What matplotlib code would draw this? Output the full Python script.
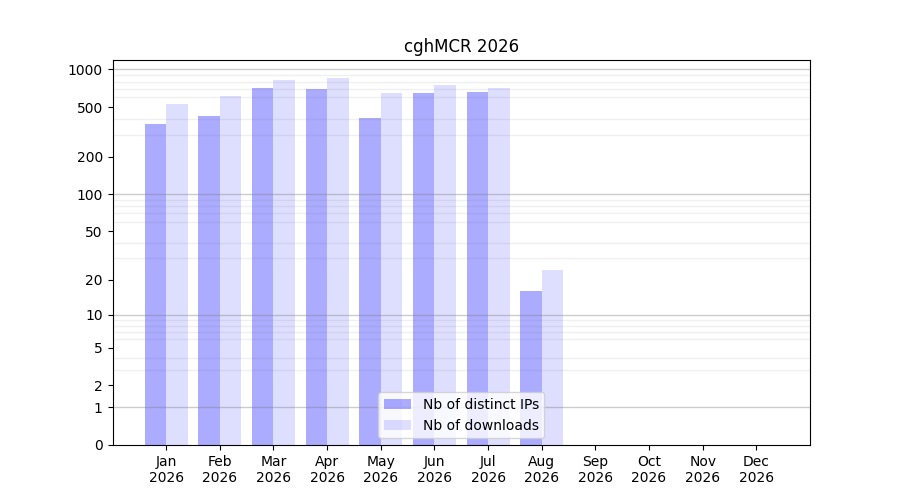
import numpy as np
import matplotlib
matplotlib.use('Agg')
import matplotlib.pyplot as plt

months = ['Jan', 'Feb', 'Mar', 'Apr', 'May', 'Jun', 'Jul', 'Aug', 'Sep', 'Oct', 'Nov', 'Dec']
year = '2026'
distinct_ips = [364, 421, 706, 693, 406, 644, 656, 16]
downloads = [526, 609, 818, 849, 644, 746, 706, 24]

ytick_values = [0, 1, 2, 5, 10, 20, 50, 100, 200, 500, 1000]
decades = [1, 10, 100, 1000]


def fwd(v):
    return np.log10(1 + np.asarray(v, dtype=float))


def inv(v):
    return 10 ** np.asarray(v, dtype=float) - 1


fig, ax = plt.subplots(figsize=(9, 5), dpi=100)
ax.set_yscale('function', functions=(fwd, inv))

pos = np.arange(1, len(distinct_ips) + 1)
w = 0.4
ax.bar(pos - w / 2, distinct_ips, width=w, color='blue', alpha=0.33, label='Nb of distinct IPs')
ax.bar(pos + w / 2, downloads, width=w, color='blue', alpha=0.13, label='Nb of downloads')

ax.set_xlim(0, 13)
ax.set_xticks(np.arange(1, 13))
ax.set_xticklabels([m + '\n' + year for m in months])

minor = [m * d for d in decades[:-1] for m in range(2, 10)]
ax.set_yticks(ytick_values)
ax.set_yticklabels([str(v) for v in ytick_values])
ax.set_yticks(minor, minor=True)
ax.tick_params(axis='y', which='minor', length=0)
ax.grid(axis='y', which='minor', color='gray', alpha=0.12, linewidth=1)
for d in decades:
    ax.axhline(d, color='gray', alpha=0.4, linewidth=1)

ax.set_title('cghMCR ' + year)
ax.legend(loc='lower center')

plt.savefig('out.png')
